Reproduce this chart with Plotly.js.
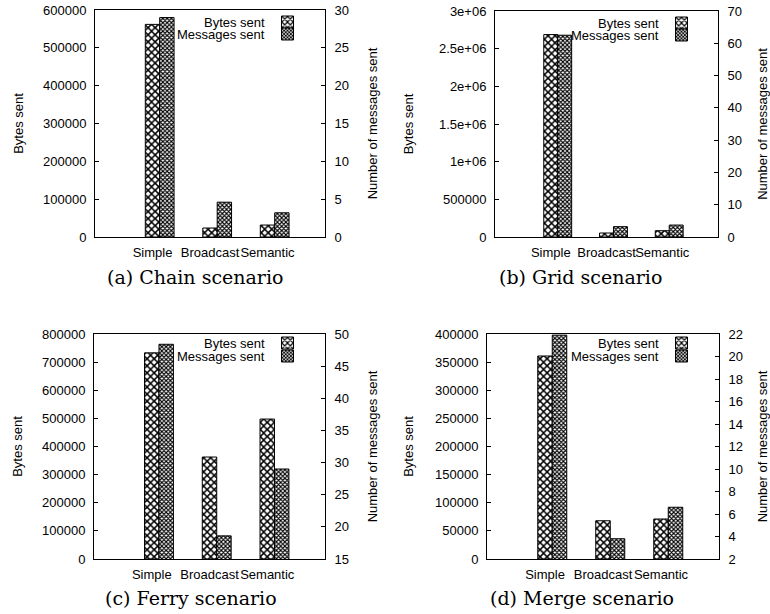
<!DOCTYPE html>
<html>
<head>
<meta charset="utf-8">
<script src="https://cdn.plot.ly/plotly-3.0.1.min.js"></script>
<style>html,body{margin:0;padding:0;background:#fff;}#chart{width:770px;height:614px;}</style>
</head>
<body>
<div id="chart"></div>
<script>
// ---- data ----
const categories = ['Simple', 'Broadcast', 'Semantic'];
const chainBytes = [562000, 23700, 31600];
const chainMsgs  = [29.0, 4.6, 3.2];
const gridBytes  = [2687000, 52900, 83700];
const gridMsgs   = [62.5, 3.2, 3.7];
const ferryBytes = [733000, 362600, 497600];
const ferryMsgs  = [48.4, 18.6, 29.0];
const mergeBytes = [360900, 68000, 71100];
const mergeMsgs  = [21.9, 3.8, 6.6];

const seriesNames = ['Bytes sent', 'Messages sent'];
const captions = ['(a) Chain scenario', '(b) Grid scenario', '(c) Ferry scenario', '(d) Merge scenario'];

const chainLeftTicks = [0, 100000, 200000, 300000, 400000, 500000, 600000];
const gridLeftTicks = [0, 500000, 1000000, 1500000, 2000000, 2500000, 3000000];
const gridLeftText = ['0', '500000', '1e+06', '1.5e+06', '2e+06', '2.5e+06', '3e+06'];
const ferryLeftTicks = [0, 100000, 200000, 300000, 400000, 500000, 600000, 700000, 800000];
const mergeLeftTicks = [0, 50000, 100000, 150000, 200000, 250000, 300000, 350000, 400000];
const chainRightTicks = [0, 5, 10, 15, 20, 25, 30];
const gridRightTicks = [0, 10, 20, 30, 40, 50, 60, 70];
const ferryRightTicks = [15, 20, 25, 30, 35, 40, 45, 50];
const mergeRightTicks = [2, 4, 6, 8, 10, 12, 14, 16, 18, 20, 22];

// ---- geometry ----
const W = 770, H = 614;
const FONT = '"Liberation Sans", Arial, sans-serif';
const SERIF = '"DejaVu Serif", serif';
const px = v => v / W;
const py = v => 1 - v / H;

const panels = [
  {xa: 'x',  ya: 'y',  ya2: 'y2', bytes: chainBytes, msgs: chainMsgs, box: [95, 325, 10, 237],
   lt: chainLeftTicks, ltt: chainLeftTicks.map(String), lr: [0, 600000], rt: chainRightTicks, rr: [0, 30],
   leg: [290, 22, 34], lstand: 16, rstand: 19, cap: [195, 277]},
  {xa: 'x2', ya: 'y3', ya2: 'y4', bytes: gridBytes, msgs: gridMsgs, box: [495, 718, 11, 237],
   lt: gridLeftTicks, ltt: gridLeftText, lr: [0, 3000000], rt: gridRightTicks, rr: [0, 70],
   leg: [684, 23, 35], lstand: 22, rstand: 34, cap: [580, 277]},
  {xa: 'x3', ya: 'y5', ya2: 'y6', bytes: ferryBytes, msgs: ferryMsgs, box: [94, 325, 334, 559],
   lt: ferryLeftTicks, ltt: ferryLeftTicks.map(String), lr: [0, 800000], rt: ferryRightTicks, rr: [15, 50],
   leg: [290, 343, 356], lstand: 16, rstand: 19, cap: [191, 598]},
  {xa: 'x4', ya: 'y7', ya2: 'y8', bytes: mergeBytes, msgs: mergeMsgs, box: [487, 719, 334, 559],
   lt: mergeLeftTicks, ltt: mergeLeftTicks.map(String), lr: [0, 400000], rt: mergeRightTicks, rr: [2, 22],
   leg: [684, 343, 356], lstand: 18, rstand: 34, cap: [582, 598]}
];

const bytesMarker = {color: 'white', line: {color: 'black', width: 1},
  pattern: {shape: 'x', size: 5, solidity: 0.5, fgcolor: 'black', bgcolor: 'white'}};
const msgsMarker = {color: 'white', line: {color: 'black', width: 1},
  pattern: {shape: 'x', size: 3, solidity: 0.6, fgcolor: 'black', bgcolor: 'white'}};

const data = [];
const layout = {
  width: W, height: H, margin: {l: 0, r: 0, t: 0, b: 0},
  paper_bgcolor: 'white', plot_bgcolor: 'white',
  font: {family: FONT, size: 13, color: 'black'},
  barmode: 'overlay', showlegend: true,
  annotations: []
};

const axName = id => id.replace('x', 'xaxis').replace('y', 'yaxis');

panels.forEach((p, i) => {
  const l1 = 'legend' + (i === 0 ? '' : (2 * i + 1));
  const l2 = 'legend' + (2 * i + 2);
  data.push({type: 'bar', x: categories, y: p.bytes, xaxis: p.xa, yaxis: p.ya,
    width: 0.25, offset: -0.125, name: '', legend: l1, marker: bytesMarker,
    hovertemplate: seriesNames[0] + ': %{y}<extra></extra>'});
  data.push({type: 'bar', x: categories, y: p.msgs, xaxis: p.xa, yaxis: p.ya2,
    width: 0.25, offset: 0.125, name: '', legend: l2, marker: msgsMarker,
    hovertemplate: seriesNames[1] + ': %{y}<extra></extra>'});

  const [x0, x1, y0, y1] = p.box;
  layout[axName(p.xa)] = {
    domain: [px(x0), px(x1)], anchor: p.ya, type: 'category', range: [-1, 3],
    showline: true, linecolor: 'black', linewidth: 1, mirror: true,
    ticks: '', showgrid: false, zeroline: false, fixedrange: true, tickangle: 0,
    tickfont: {family: FONT, size: 13}, ticklabelstandoff: 3
  };
  layout[axName(p.ya)] = {
    domain: [py(y1), py(y0)], anchor: p.xa, range: p.lr,
    tickvals: p.lt, ticktext: p.ltt,
    showline: true, linecolor: 'black', linewidth: 1,
    ticks: 'inside', ticklen: 4, tickcolor: 'black', showgrid: false, zeroline: false,
    tickfont: {family: FONT, size: 13}, ticklabelstandoff: 5,
    title: {text: 'Bytes sent', font: {family: FONT, size: 13}, standoff: p.lstand}
  };
  layout[axName(p.ya2)] = {
    overlaying: p.ya, side: 'right', anchor: p.xa, range: p.rr,
    tickvals: p.rt, showline: true, linecolor: 'black', linewidth: 1,
    ticks: 'inside', ticklen: 4, tickcolor: 'black', showgrid: false, zeroline: false,
    tickfont: {family: FONT, size: 13}, ticklabelstandoff: 6,
    title: {text: 'Number of messages sent', font: {family: FONT, size: 13}, standoff: p.rstand}
  };

  const legBase = {xref: 'paper', yref: 'paper', xanchor: 'center', yanchor: 'middle',
    bgcolor: 'rgba(0,0,0,0)', borderwidth: 0, font: {size: 1}, itemwidth: 30};
  layout[l1] = Object.assign({}, legBase, {x: px(p.leg[0]), y: py(p.leg[1])});
  layout[l2] = Object.assign({}, legBase, {x: px(p.leg[0]), y: py(p.leg[2])});

  layout.annotations.push({xref: 'paper', yref: 'paper', x: px(p.leg[0] - 24), y: py(p.leg[1]),
    xanchor: 'right', yanchor: 'middle', text: seriesNames[0], showarrow: false, borderpad: 0,
    font: {family: FONT, size: 13}});
  layout.annotations.push({xref: 'paper', yref: 'paper', x: px(p.leg[0] - 24), y: py(p.leg[2]),
    xanchor: 'right', yanchor: 'middle', text: seriesNames[1], showarrow: false, borderpad: 0,
    font: {family: FONT, size: 13}});
  layout.annotations.push({xref: 'paper', yref: 'paper', x: px(p.cap[0]), y: py(p.cap[1]),
    xanchor: 'center', yanchor: 'middle', text: captions[i], showarrow: false,
    font: {family: SERIF, size: 19}});
});

Plotly.newPlot('chart', data, layout, {displayModeBar: false, staticPlot: true});
</script>
</body>
</html>
